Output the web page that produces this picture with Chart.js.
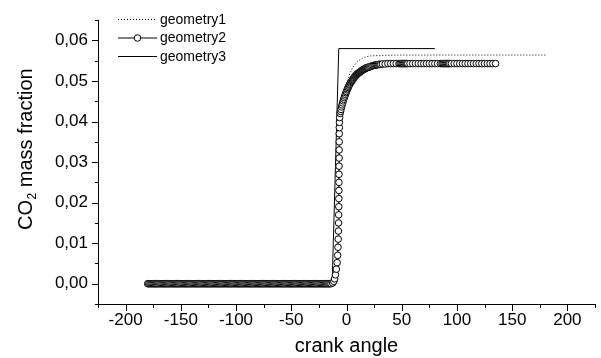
<!DOCTYPE html>
<html>
<head>
<meta charset="utf-8">
<script src="https://cdn.jsdelivr.net/npm/chart.js@4/dist/chart.umd.min.js"></script>
<style>
html,body{margin:0;padding:0;background:#fff;}
#wrap{width:601px;height:358px;}
</style>
</head>
<body>
<div id="wrap"><canvas id="c" width="601" height="358"></canvas></div>
<script>
// ---- data (crank angle, CO2 mass fraction) ----
const seriesNames = ['geometry1', 'geometry2', 'geometry3'];
const xTickValues = [-200, -150, -100, -50, 0, 50, 100, 150, 200];
const yTickValues = [0, 0.01, 0.02, 0.03, 0.04, 0.05, 0.06];
const xTitle = 'crank angle';
const yTitleParts = ['CO', '2', ' mass fraction'];

const geometry1 = [
  [-180,0],[-12,0],[-10,0.002],[-8.5,0.006],[-7.5,0.012],[-7,0.02],[-6.7,0.03],[-6.4,0.038],
  [-6,0.042],[-5,0.044],[-3,0.0463],[-1,0.0485],[1,0.0503],[3,0.0518],[5,0.053],[7,0.0539],
  [9,0.0545],[11,0.055],[13,0.0554],[15,0.0557],[18,0.056],[22,0.0562],[30,0.0563],[45,0.0564],[180,0.0564]
];

const geometry2 = [
  [-180,0],[-179,0],[-178,0],[-177,0],[-176,0],[-175,0],[-174,0],[-173,0],[-172,0],[-171,0],
  [-170,0],[-169,0],[-168,0],[-167,0],[-166,0],[-165,0],[-164,0],[-163,0],[-162,0],[-161,0],
  [-160,0],[-159,0],[-158,0],[-157,0],[-156,0],[-155,0],[-154,0],[-153,0],[-152,0],[-151,0],
  [-150,0],[-149,0],[-148,0],[-147,0],[-146,0],[-145,0],[-144,0],[-143,0],[-142,0],[-141,0],
  [-140,0],[-139,0],[-138,0],[-137,0],[-136,0],[-135,0],[-134,0],[-133,0],[-132,0],[-131,0],
  [-130,0],[-129,0],[-128,0],[-127,0],[-126,0],[-125,0],[-124,0],[-123,0],[-122,0],[-121,0],
  [-120,0],[-119,0],[-118,0],[-117,0],[-116,0],[-115,0],[-114,0],[-113,0],[-112,0],[-111,0],
  [-110,0],[-109,0],[-108,0],[-107,0],[-106,0],[-105,0],[-104,0],[-103,0],[-102,0],[-101,0],
  [-100,0],[-99,0],[-98,0],[-97,0],[-96,0],[-95,0],[-94,0],[-93,0],[-92,0],[-91,0],
  [-90,0],[-89,0],[-88,0],[-87,0],[-86,0],[-85,0],[-84,0],[-83,0],[-82,0],[-81,0],
  [-80,0],[-79,0],[-78,0],[-77,0],[-76,0],[-75,0],[-74,0],[-73,0],[-72,0],[-71,0],
  [-70,0],[-69,0],[-68,0],[-67,0],[-66,0],[-65,0],[-64,0],[-63,0],[-62,0],[-61,0],
  [-60,0],[-59,0],[-58,0],[-57,0],[-56,0],[-55,0],[-54,0],[-53,0],[-52,0],[-51,0],
  [-50,0],[-49,0],[-48,0],[-47,0],[-46,0],[-45,0],[-44,0],[-43,0],[-42,0],[-41,0],
  [-40,0],[-39,0],[-38,0],[-37,0],[-36,0],[-35,0],[-34,0],[-33,0],[-32,0],[-31,0],
  [-30,0],[-29,0],[-28,0],[-27,0],[-26,0],[-25,0],[-24,0],[-23,0],[-22,0],[-21,0],
  [-20,0],[-19,0],[-18,0],[-17,0],[-16,0],[-15,0],[-14,0],
  [-12.5,0.0002],[-11.5,0.0006],[-10.8,0.0012],[-10,0.0022],[-9.2,0.0036],[-8.5,0.0052],
  [-8,0.007],[-7.7,0.009],[-7.5,0.011],[-7.3,0.013],[-7.2,0.015],[-7.1,0.017],[-7,0.019],
  [-6.95,0.021],[-6.9,0.023],[-6.85,0.025],[-6.8,0.027],[-6.75,0.029],[-6.7,0.031],
  [-6.65,0.033],[-6.6,0.035],[-6.55,0.037],[-6.5,0.0385],[-6.4,0.0398],[-6.2,0.041],[-5.8,0.042],
  [-5.4,0.0425],[-5,0.043],[-4.5,0.0436],[-4,0.0441],[-3.5,0.0446],[-3,0.0451],[-2.5,0.0455],
  [-2,0.0459],[-1.5,0.0463],[-1,0.0467],[-0.5,0.0471],[0,0.0474],[0.5,0.0478],[1,0.0481],
  [1.5,0.0484],[2,0.0487],[2.5,0.049],[3,0.0492],[3.5,0.0495],[4,0.0497],[4.5,0.0499],[5,0.0501],
  [5.5,0.0503],[6,0.0505],[6.5,0.0507],[7,0.0509],[7.5,0.0511],[8,0.0512],[8.5,0.0514],[9,0.0515],
  [9.5,0.0517],[10,0.0518],[10.5,0.0519],[11,0.052],[11.5,0.0521],[12,0.0522],[12.5,0.0523],
  [13,0.0524],[13.5,0.0525],[14,0.0526],[14.5,0.0527],[15,0.0528],[15.5,0.0529],[16,0.0529],
  [16.5,0.053],[17,0.0531],[17.5,0.0532],[18,0.0532],[18.5,0.0533],[19,0.0533],[19.5,0.0534],
  [20,0.0534],[21,0.0535],[22,0.0536],[23,0.0537],[24,0.0538],[25,0.0539],[26,0.0539],
  [27,0.054],[28,0.054],[29,0.0541],[30,0.0541],[31,0.0541],
  [32.5,0.0542],[35,0.0542],[37.5,0.0543],[40,0.0543],[42.5,0.0543],[45,0.0543],[47.5,0.0543],
  [48.5,0.0543],[49.5,0.0543],[50.5,0.0543],[51.5,0.0543],[52.5,0.0543],[53.5,0.0543],[54.5,0.0543],
  [55.5,0.0543],[57.5,0.0543],[60,0.0543],[62.5,0.0543],[65,0.0543],[67.5,0.0543],[70,0.0543],
  [72.5,0.0543],[75,0.0543],[77.5,0.0543],[80,0.0543],[82.5,0.0543],[85,0.0543],[86.5,0.0543],
  [87.5,0.0543],[88.5,0.0543],[89.5,0.0543],[90.5,0.0543],[91.5,0.0543],[92.5,0.0543],[93.5,0.0543],
  [95,0.0543],[97.5,0.0543],[100,0.0543],[102.5,0.0543],[105,0.0543],[107.5,0.0543],[110,0.0543],
  [112.5,0.0543],[115,0.0543],[117.5,0.0543],[120,0.0543],[122.5,0.0543],[125,0.0543],[127.5,0.0543],
  [130,0.0543],[132.5,0.0543],[135,0.0543]
];

const geometry3 = [[-180,0],[-13,0],[-7,0.058],[80,0.058]];

// ---- chart ----
const FONT = "'Liberation Sans', Arial, Helvetica, sans-serif";
const toXY = arr => arr.map(p => ({x: p[0], y: p[1]}));

const decorPlugin = {
  id: 'ticksLegendTitle',
  afterDraw(chart) {
    const ctx = chart.ctx;
    const xs = chart.scales.x, ys = chart.scales.y;
    const area = chart.chartArea;
    ctx.save();
    ctx.strokeStyle = '#000';
    ctx.lineWidth = 1;
    ctx.beginPath();
    xs.ticks.forEach(t => {
      const px = Math.round(xs.getPixelForValue(t.value)) + 0.5;
      const len = xTickValues.includes(t.value) ? 7 : 4;
      ctx.moveTo(px, area.bottom);
      ctx.lineTo(px, area.bottom + len);
    });
    ys.ticks.forEach(t => {
      const py = Math.round(ys.getPixelForValue(t.value)) + 0.5;
      const major = yTickValues.some(v => Math.abs(v - t.value) < 1e-9);
      const len = major ? 6 : 3;
      ctx.moveTo(area.left, py);
      ctx.lineTo(area.left - len, py);
    });
    ctx.stroke();

    // legend
    const lx0 = 118, lx1 = 157, tx = 160;
    const rows = [19, 37.5, 56];
    ctx.font = '14px ' + FONT;
    ctx.fillStyle = '#000';
    ctx.textBaseline = 'middle';
    ctx.textAlign = 'left';
    chart.data.datasets.forEach((ds, i) => {
      const y = rows[i] + 0.5;
      ctx.save();
      ctx.strokeStyle = '#000';
      ctx.lineWidth = 1;
      ctx.setLineDash(ds.borderDash || []);
      ctx.beginPath();
      ctx.moveTo(lx0, y); ctx.lineTo(lx1, y);
      ctx.stroke();
      ctx.setLineDash([]);
      if (ds.pointRadius > 0) {
        ctx.beginPath();
        ctx.arc((lx0 + lx1) / 2, y, ds.pointRadius, 0, Math.PI * 2);
        ctx.fillStyle = '#fff';
        ctx.fill();
        ctx.stroke();
      }
      ctx.restore();
      ctx.fillText(ds.label, tx, rows[i] + 1);
    });

    // y-axis title with subscript
    ctx.save();
    ctx.translate(31.5, 230);
    ctx.rotate(-Math.PI / 2);
    ctx.fillStyle = '#000';
    ctx.textBaseline = 'alphabetic';
    ctx.textAlign = 'left';
    ctx.font = '20px ' + FONT;
    let x = 0;
    ctx.fillText(yTitleParts[0], x, 0);
    x += ctx.measureText(yTitleParts[0]).width;
    ctx.font = '12px ' + FONT;
    ctx.fillText(yTitleParts[1], x + 0.5, 4);
    x += ctx.measureText(yTitleParts[1]).width + 0.5;
    ctx.font = '20px ' + FONT;
    ctx.fillText(yTitleParts[2], x, 0);
    ctx.restore();

    ctx.restore();
  }
};

new Chart(document.getElementById('c'), {
  type: 'line',
  data: {
    datasets: [
      {
        label: seriesNames[0], data: toXY(geometry1), order: 1,
        borderColor: '#000', borderWidth: 1, borderDash: [1, 2],
        pointRadius: 0, tension: 0, fill: false
      },
      {
        label: seriesNames[1], data: toXY(geometry2), order: 0,
        borderColor: '#000', borderWidth: 1,
        pointRadius: 3.3, pointBorderWidth: 1, pointBorderColor: '#000',
        pointBackgroundColor: '#fff', tension: 0, fill: false
      },
      {
        label: seriesNames[2], data: toXY(geometry3), order: 2,
        borderColor: '#000', borderWidth: 1,
        pointRadius: 0, tension: 0, fill: false
      }
    ]
  },
  options: {
    responsive: false,
    animation: false,
    devicePixelRatio: 1,
    layout: { padding: { top: 5, right: 1, left: 0, bottom: 0 } },
    plugins: { legend: { display: false }, tooltip: { enabled: false } },
    scales: {
      x: {
        type: 'linear', min: -225, max: 225,
        afterFit(s) { s.height = 54; },
        grid: { display: false, drawTicks: false },
        border: { display: true, color: '#000', width: 1 },
        ticks: {
          stepSize: 25, autoSkip: false, maxRotation: 0, padding: 6,
          color: '#000', font: { family: FONT, size: 17 },
          callback: v => xTickValues.includes(v) ? String(v) : ''
        },
        title: {
          display: true, text: xTitle, color: '#000',
          font: { family: FONT, size: 20 }, padding: { top: 0, bottom: 0 }
        }
      },
      y: {
        type: 'linear', min: -0.005, max: 0.065,
        afterFit(s) { s.width = 98; },
        grid: { display: false, drawTicks: false },
        border: { display: true, color: '#000', width: 1 },
        ticks: {
          stepSize: 0.005, autoSkip: false, padding: 10,
          color: '#000', font: { family: FONT, size: 17 },
          callback: v => {
            const m = yTickValues.find(t => Math.abs(t - v) < 1e-9);
            return m === undefined ? '' : m.toFixed(2).replace('.', ',');
          }
        },
        title: { display: false }
      }
    }
  },
  plugins: [decorPlugin]
});
</script>
</body>
</html>
